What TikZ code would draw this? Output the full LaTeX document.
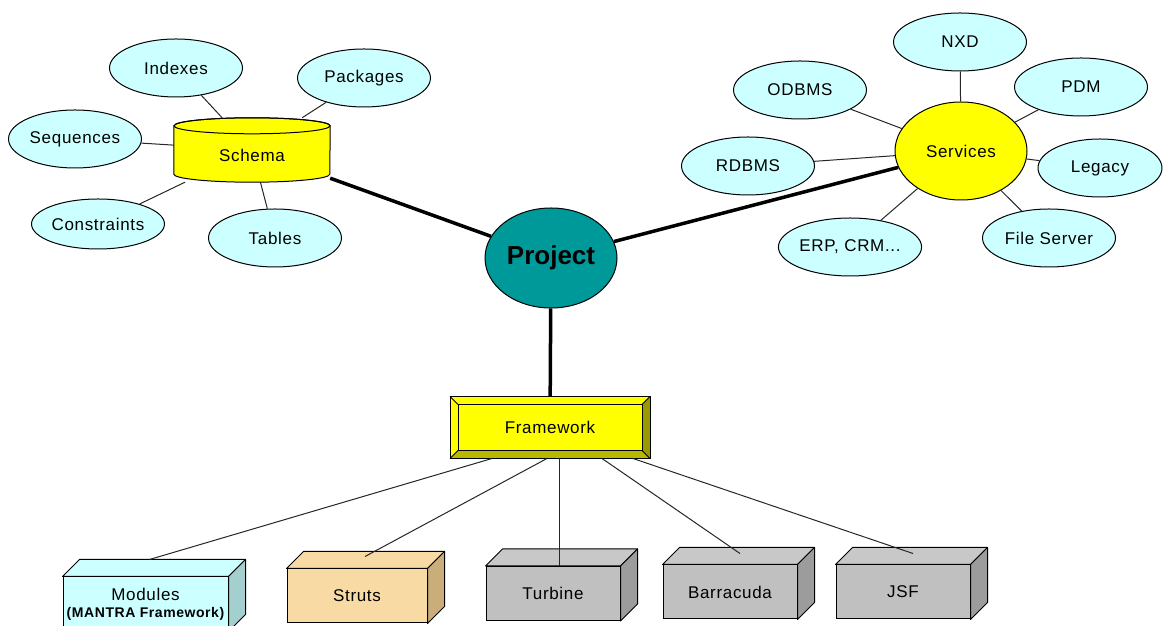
\documentclass[tikz,border=0pt]{standalone}
\usepackage{fontspec}
\setmainfont{Liberation Sans}
\newfontfamily\lblfont[LetterSpace=4]{Liberation Sans}
\usetikzlibrary{shapes.geometric}
\definecolor{leafcyan}{HTML}{CCFFFF}
\definecolor{hubyellow}{HTML}{FFFF00}
\definecolor{projteal}{HTML}{009999}
\definecolor{bevelright}{HTML}{999900}
\definecolor{bevelbottom}{HTML}{B8B800}
\definecolor{modside}{HTML}{A3CFCF}
\definecolor{strutsfront}{HTML}{F7DAA4}
\definecolor{strutsside}{HTML}{C9AE7C}
\definecolor{boxgray}{HTML}{C0C0C0}
\definecolor{boxgraytop}{HTML}{C8C8C8}
\definecolor{boxgrayside}{HTML}{9C9C9C}
\tikzset{
  lbl/.style={font={\lblfont\fontsize{17}{20}\selectfont}},
  leaf/.style={ellipse, draw, line width=1pt, fill=leafcyan, minimum width=133, minimum height=58, inner sep=0pt, lbl},
  hub/.style={ellipse, draw, line width=1pt, fill=hubyellow, minimum width=132, minimum height=98, inner sep=0pt, lbl},
  projnode/.style={ellipse, draw, line width=1pt, fill=projteal, minimum width=132, minimum height=100, inner sep=0pt, font={\fontsize{26}{30}\selectfont\bfseries}},
  fwbox/.style={rectangle, draw, line width=1pt, fill=hubyellow, minimum width=199, minimum height=61, inner sep=0pt, lbl},
  box/.style={rectangle, draw, line width=1pt, fill=#1, minimum width=134, minimum height=54, inner sep=0pt, align=center, lbl},
  link/.style={line width=1pt, draw=black!85},
  trunk/.style={line width=3.5pt}
}
\begin{document}
\begin{tikzpicture}[x=1pt, y=1pt]
\useasboundingbox (0,0) rectangle (1163,626);

\node[rectangle, minimum width=156, minimum height=64, inner sep=0pt] (schema) at (252,476) {};
\filldraw[fill=hubyellow, line width=1pt] ([yshift=-8]schema.north west) -- ([yshift=8]schema.south west)
  arc[start angle=180, end angle=360, x radius=78pt, y radius=8pt]
  -- ([yshift=-8]schema.north east)
  arc[start angle=0, end angle=180, x radius=78pt, y radius=8pt] -- cycle;
\draw[line width=1pt] ([yshift=-8]schema.north) ellipse[x radius=78pt, y radius=8pt];
\node[lbl] (schemalbl) at ([yshift=-5]schema.center) {Schema};

\node[leaf] (idx) at (176,558) {Indexes};
\node[leaf] (pkg) at (364,548) {Packages};
\node[leaf] (seq) at (75,487) {Sequences};
\node[leaf, minimum height=50] (con) at (98,402) {Constraints};
\node[leaf] (tab) at (275,388) {Tables};

\node[hub] (serv) at (961,475) {Services};
\node[leaf] (nxd) at (960,584) {NXD};
\node[leaf] (odb) at (800,536) {ODBMS};
\node[leaf] (pdm) at (1081,539) {PDM};
\node[leaf] (rdb) at (748,460) {RDBMS};
\node[leaf, minimum width=124] (leg) at (1100,458) {Legacy};
\node[leaf] (erp) at (850,379) {ERP, CRM...};
\node[leaf] (fsv) at (1049,388) {File Server};

\node[projnode] (proj) at (551,368) {Project};

\node[fwbox] (fw) at (550,198.5) {Framework};
\fill[bevelright] (fw.north east) -- (fw.south east) -- ([shift={(-8,8)}]fw.south east) -- ([shift={(-8,-8)}]fw.north east) -- cycle;
\fill[bevelbottom] (fw.south west) -- (fw.south east) -- ([shift={(-8,8)}]fw.south east) -- ([shift={(8,8)}]fw.south west) -- cycle;
\draw[line width=1pt] (fw.south west) rectangle (fw.north east);
\draw[line width=1pt] ([shift={(8,8)}]fw.south west) rectangle ([shift={(-8,-8)}]fw.north east);
\draw[line width=1pt] (fw.north west) -- ++(8,-8) (fw.north east) -- ++(-8,-8)
  (fw.south west) -- ++(8,8) (fw.south east) -- ++(-8,8);

\node[box=leafcyan, minimum width=165] (mod) at (145.5,22) {Modules\\[-3pt]{\fontsize{14}{16}\selectfont\bfseries (MANTRA Framework)}};
\node[box=strutsfront, minimum width=140] (str) at (357,30) {Struts};
\node[box=boxgray] (tur) at (553,32.5) {Turbine};
\node[box=boxgray] (bar) at (730,34) {Barracuda};
\node[box=boxgray] (jsf) at (903,34) {JSF};

\foreach \n/\tc/\sc in {mod/leafcyan/modside, str/strutsfront/strutsside, tur/boxgraytop/boxgrayside, bar/boxgraytop/boxgrayside, jsf/boxgraytop/boxgrayside}{
  \filldraw[fill=\tc, line width=1pt, line join=round] (\n.north west) -- ++(17,17) -- ([shift={(17,17)}]\n.north east) -- (\n.north east) -- cycle;
  \filldraw[fill=\sc, line width=1pt, line join=round] (\n.north east) -- ++(17,17) -- ([shift={(17,17)}]\n.south east) -- (\n.south east) -- cycle;
}

\foreach \a in {idx, pkg, seq, con, tab}
  \draw[link] (\a) -- (schema);
\foreach \a in {nxd, odb, pdm, rdb, leg, erp, fsv}
  \draw[link] (\a) -- (serv);

\draw[trunk] (schema) -- (proj);
\draw[trunk] (serv) -- (proj);
\draw[trunk] (proj) -- (fw);

\draw[link] ([xshift=-58]fw.south) -- ([shift={(4,17)}]mod.north);
\draw[link] ([xshift=-3]fw.south) -- ([shift={(8,12)}]str.north);
\draw[link] ([xshift=9]fw.south) -- ([xshift=6]tur.north);
\draw[link] ([xshift=52]fw.south) -- ([shift={(10,11)}]bar.north);
\draw[link] ([xshift=83]fw.south) -- ([shift={(10,11)}]jsf.north);
\end{tikzpicture}
\end{document}
